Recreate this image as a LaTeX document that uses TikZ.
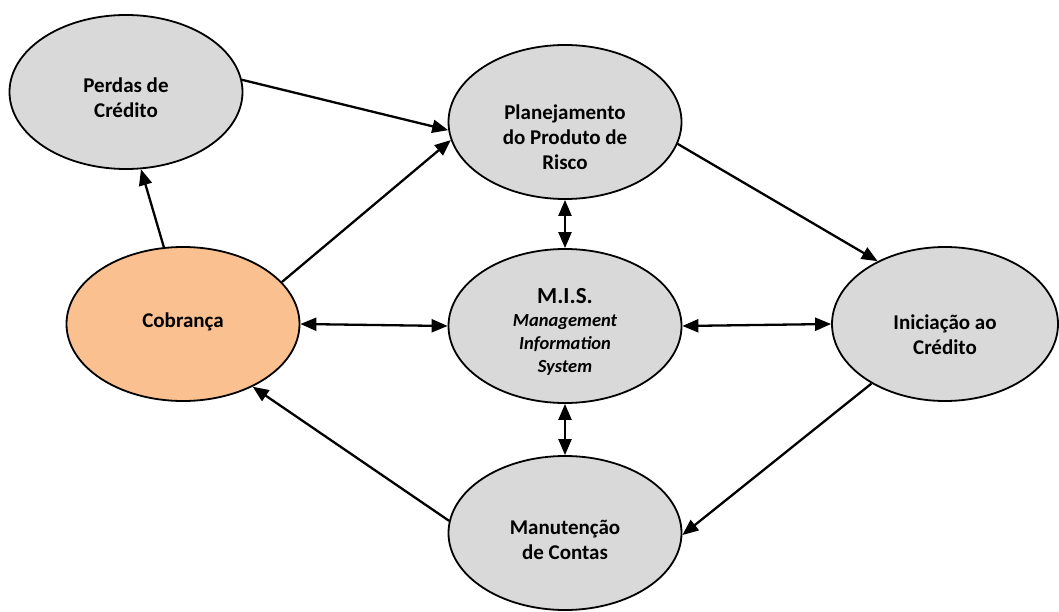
\documentclass[tikz,border=0pt]{standalone}
\usepackage{fontspec}
\setmainfont{Carlito}
\usetikzlibrary{arrows.meta,shapes.geometric}
\definecolor{ellgray}{HTML}{D9D9D9}
\definecolor{ellorange}{HTML}{FAC090}
\begin{document}
\begin{tikzpicture}[x=1pt,y=-1pt,
  bubble/.style={ellipse,draw=black,line width=1.8pt,fill=ellgray,minimum width=233pt,minimum height=154pt,inner sep=0pt},
  lbl/.style={align=center,font=\fontsize{21}{25}\selectfont\bfseries,inner sep=0pt},
  conn/.style={line width=2.3pt,-{Triangle[length=16pt,width=13pt]}},
  dconn/.style={line width=2.3pt,{Triangle[length=16pt,width=13pt]}-{Triangle[length=16pt,width=13pt]}}]
\useasboundingbox (0,0) rectangle (1059,612);
\node[bubble] (perdas) at (126,92) {};
\node[bubble] (plan) at (565,122) {};
\node[bubble] (mis) at (565,326) {};
\node[bubble,fill=ellorange] (cob) at (183,324) {};
\node[bubble,minimum width=226pt] (ini) at (945,324) {};
\node[bubble] (man) at (565,533) {};
\node[lbl] (tperdas) at (126,98) {Perdas de\\Crédito};
\node[lbl] (tplan) at (565,137) {Planejamento\\do Produto de\\Risco};
\node[lbl] (tcob) at (183,322) {Cobrança};
\node[lbl] (tini) at (945,335) {Iniciação ao\\Crédito};
\node[lbl] (tman) at (565,540) {Manutenção\\de Contas};
\node[lbl,font=\fontsize{23}{27}\selectfont\bfseries] (tmis1) at (565,296) {M.I.S.};
\node[align=center,inner sep=0pt,font=\fontsize{18.5}{23}\selectfont\bfseries\itshape] (tmis) at (565,345) {Management\\Information\\System};
\draw[conn] (perdas.6.8) -- (plan.184.9);
\draw[conn] (cob.104.4) -- (perdas.281.3);
\draw[conn] (cob.23.3) -- (plan.189.8);
\draw[conn] (plan.349.8) -- (ini.137.4);
\draw[dconn] (plan.south) -- (mis.north);
\draw[dconn] (cob.east) -- (mis.west);
\draw[dconn] (mis.east) -- (ini.west);
\draw[dconn] (mis.south) -- (man.north);
\draw[conn] (ini.219.3) -- (man.359.5);
\draw[conn] (man.174.6) -- (cob.318.7);
\end{tikzpicture}
\end{document}
